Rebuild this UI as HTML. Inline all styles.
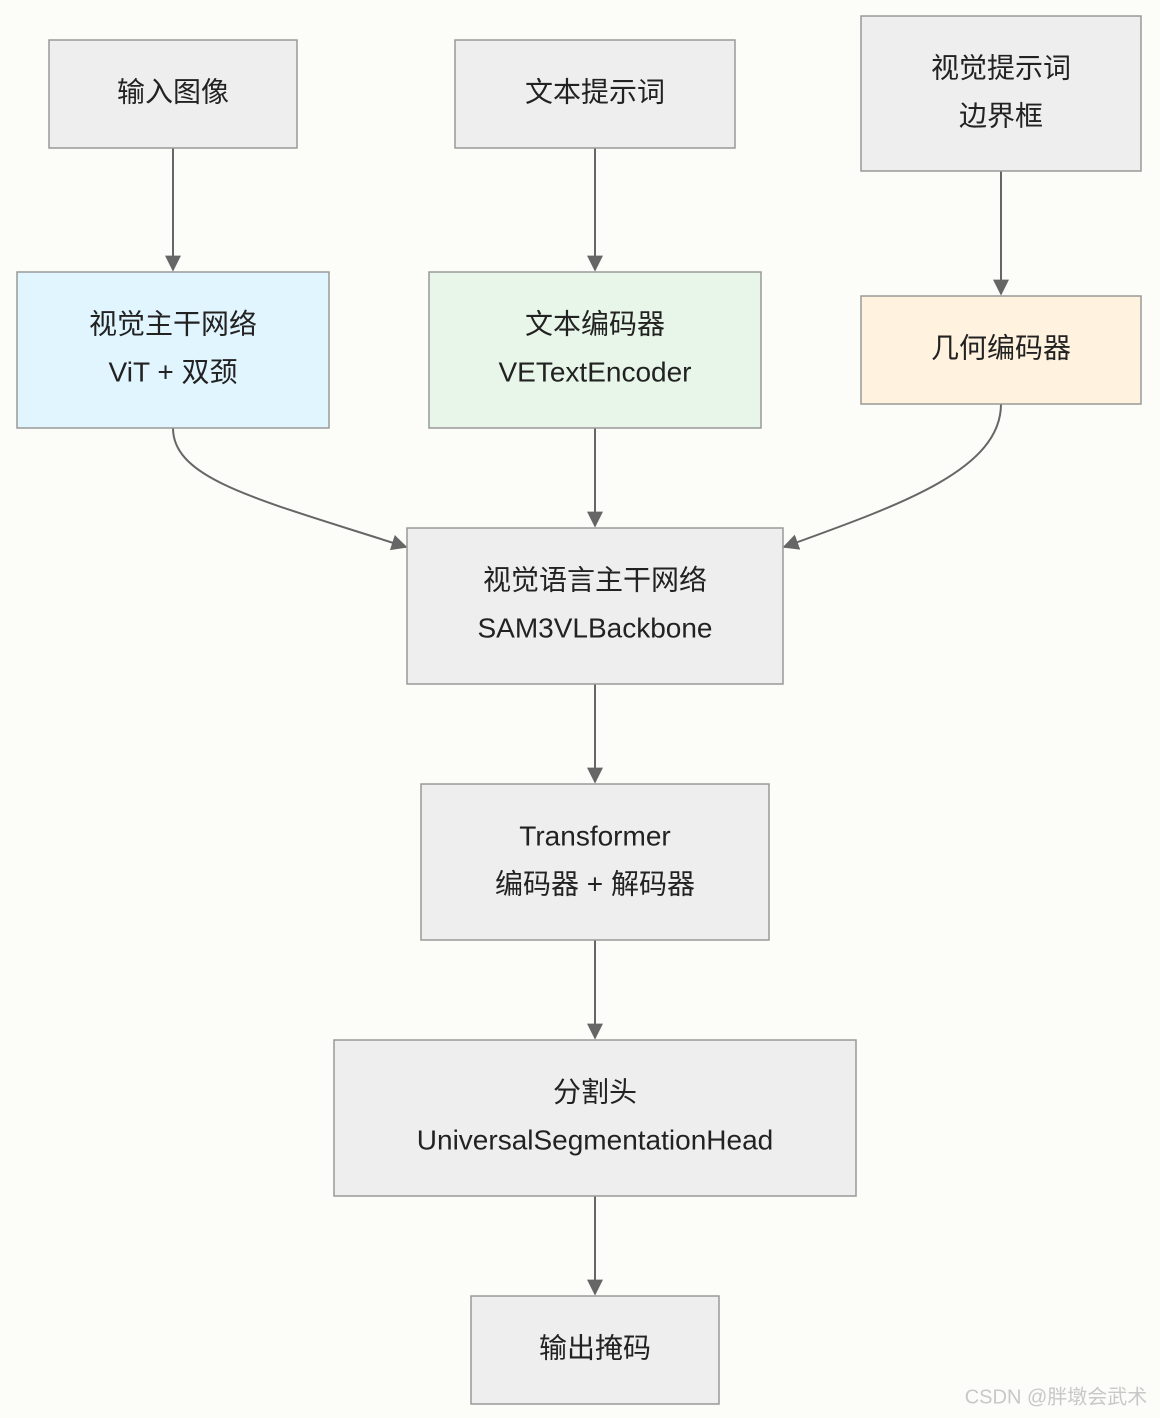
<!DOCTYPE html>
<html><head><meta charset="utf-8"><style>
html,body{margin:0;padding:0;background:#fcfcf8;}
svg{display:block}
text{font-family:"Liberation Sans","Noto Sans CJK SC",sans-serif;font-size:28px;fill:#222;text-anchor:middle;dominant-baseline:middle}
.n{stroke:#999;stroke-width:1.5}
.e{stroke:#666;stroke-width:2;fill:none}
</style></head><body>
<svg width="1160" height="1418" viewBox="0 0 1160 1418">
<defs><marker id="a" viewBox="0 0 10 10" refX="9" refY="5" markerWidth="8" markerHeight="8" orient="auto-start-reverse" markerUnits="userSpaceOnUse"><path d="M0,0 L10,5 L0,10 z" fill="#666"/></marker>
<marker id="b" viewBox="0 0 10 10" refX="9" refY="5" markerWidth="16" markerHeight="16" orient="auto" markerUnits="userSpaceOnUse"><path d="M0,0 L10,5 L0,10 z" fill="#666"/></marker></defs>
<rect width="1160" height="1418" fill="#fcfcf8"/>
<!-- edges -->
<path class="e" d="M173,148 V270" marker-end="url(#b)"/>
<path class="e" d="M595,148 V270" marker-end="url(#b)"/>
<path class="e" d="M1001,171 V294" marker-end="url(#b)"/>
<path class="e" d="M173,428 C173,480 260,500 406,547" marker-end="url(#b)"/>
<path class="e" d="M595,428 V526" marker-end="url(#b)"/>
<path class="e" d="M1001,404 C1001,470 900,505 784,547" marker-end="url(#b)"/>
<path class="e" d="M595,684 V782" marker-end="url(#b)"/>
<path class="e" d="M595,940 V1038" marker-end="url(#b)"/>
<path class="e" d="M595,1196 V1294" marker-end="url(#b)"/>
<!-- nodes -->
<rect class="n" x="49" y="40" width="248" height="108" fill="#eeeeee"/>
<text x="173" y="94">输入图像</text>
<rect class="n" x="455" y="40" width="280" height="108" fill="#eeeeee"/>
<text x="595" y="94">文本提示词</text>
<rect class="n" x="861" y="16" width="280" height="155" fill="#eeeeee"/>
<text x="1001" y="70">视觉提示词</text><text x="1001" y="118">边界框</text>
<rect class="n" x="17" y="272" width="312" height="156" fill="#e1f5fe"/>
<text x="173" y="326">视觉主干网络</text><text x="173" y="374">ViT + 双颈</text>
<rect class="n" x="429" y="272" width="332" height="156" fill="#e8f5e9"/>
<text x="595" y="326">文本编码器</text><text x="595" y="374">VETextEncoder</text>
<rect class="n" x="861" y="296" width="280" height="108" fill="#fff3e0"/>
<text x="1001" y="350">几何编码器</text>
<rect class="n" x="407" y="528" width="376" height="156" fill="#eeeeee"/>
<text x="595" y="582">视觉语言主干网络</text><text x="595" y="630">SAM3VLBackbone</text>
<rect class="n" x="421" y="784" width="348" height="156" fill="#eeeeee"/>
<text x="595" y="838">Transformer</text><text x="595" y="886">编码器 + 解码器</text>
<rect class="n" x="334" y="1040" width="522" height="156" fill="#eeeeee"/>
<text x="595" y="1094">分割头</text><text x="595" y="1142">UniversalSegmentationHead</text>
<rect class="n" x="471" y="1296" width="248" height="108" fill="#eeeeee"/>
<text x="595" y="1350">输出掩码</text>
<text x="1056" y="1398" style="font-size:20px;fill:#c8c8c8">CSDN @胖墩会武术</text>
</svg>
</body></html>
